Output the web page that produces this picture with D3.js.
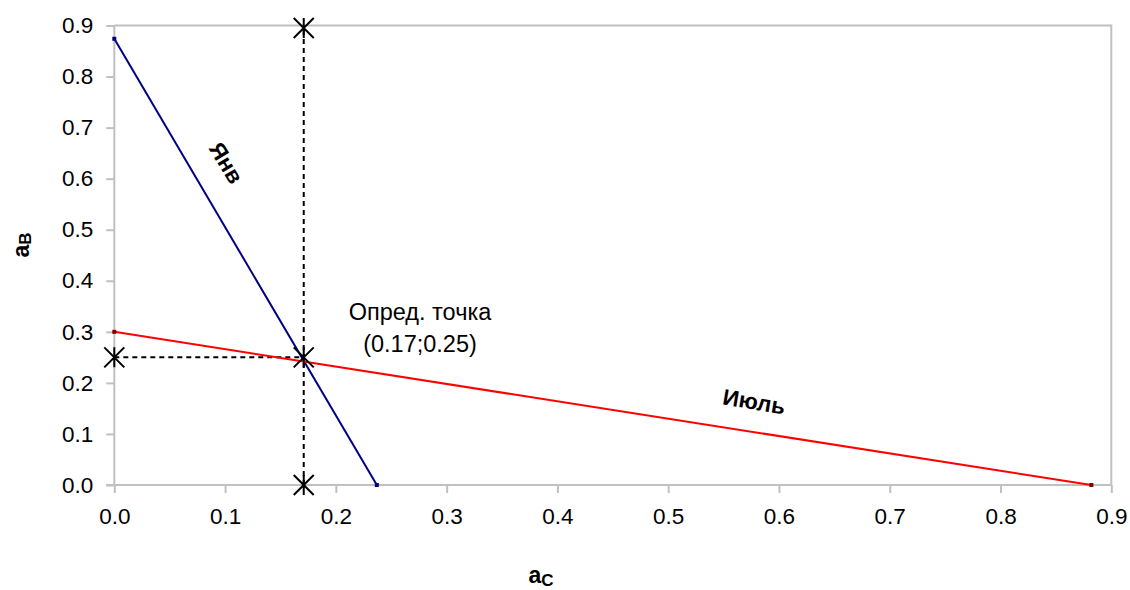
<!DOCTYPE html>
<html><head><meta charset="utf-8">
<script src="https://cdn.jsdelivr.net/npm/d3@7"></script>
<style>body{margin:0;background:#fff}svg{font-family:Arial,"Liberation Sans",sans-serif}</style>
</head><body>
<svg id="c" width="1130" height="590"></svg>
<script>
const xTicks = [0,0.1,0.2,0.3,0.4,0.5,0.6,0.7,0.8,0.9];
const yTicks = [0,0.1,0.2,0.3,0.4,0.5,0.6,0.7,0.8,0.9];
const janX = [0, 0.237];
const janY = [0.874, 0];
const julX = [0, 0.882];
const julY = [0.300, 0];
const ptX = [0, 0.171, 0.171, 0.171];
const ptY = [0.25, 0.25, 0, 0.895];
const vDashX = [0.171, 0.171];
const vDashY = [0, 0.895];
const hDashX = [0, 0.171];
const hDashY = [0.25, 0.25];
const labels = ["Янв", "Июль"];
const pointText = ["Опред. точка", "(0.17;0.25)"];

const svg = d3.select("#c");
const L=114.3, R=1111.3, T=25.5, B=485;
const x = d3.scaleLinear().domain([0,0.9]).range([L,R]);
const y = d3.scaleLinear().domain([0,0.9]).range([B,T]);
const grey="#c0c0c0";
const FS=22.5;

svg.append("path").attr("d",`M${L},${T}H${R}V${B}`).attr("fill","none").attr("stroke",grey).attr("stroke-width",2);

const xa = svg.append("g").attr("transform",`translate(0,${B})`)
  .call(d3.axisBottom(x).tickValues(xTicks).tickFormat(d3.format(".1f")).tickSize(8).tickPadding(15));
const ya = svg.append("g").attr("transform",`translate(${L},0)`)
  .call(d3.axisLeft(y).tickValues(yTicks).tickFormat(d3.format(".1f")).tickSize(8).tickPadding(13));
[xa,ya].forEach(a=>{
  a.selectAll("path.domain").attr("stroke",grey).attr("stroke-width",2);
  a.selectAll(".tick line").attr("stroke",grey).attr("stroke-width",2);
  a.selectAll("text").attr("font-size",FS).attr("fill","#000").attr("font-family","Arial, Liberation Sans, sans-serif");
});
xa.select("path.domain").attr("d",`M${L-8},0H${R}`);
ya.select("path.domain").attr("d",`M0,${T}V${B}`);
xa.selectAll("text").attr("dy","0.71em");

const line = d3.line().x(d=>x(d[0])).y(d=>y(d[1]));
svg.append("path").datum(d3.zip(vDashX,vDashY)).attr("d",line).attr("stroke","#000").attr("stroke-width",2).attr("stroke-dasharray","5,4").attr("fill","none");
svg.append("path").datum(d3.zip(hDashX,hDashY)).attr("d",line).attr("stroke","#000").attr("stroke-width",2).attr("stroke-dasharray","5,4").attr("fill","none");

svg.append("path").datum(d3.zip(janX,janY)).attr("d",line).attr("stroke","#000080").attr("stroke-width",2).attr("fill","none");
svg.append("path").datum(d3.zip(julX,julY)).attr("d",line).attr("stroke","#ff0000").attr("stroke-width",2).attr("fill","none");
svg.selectAll("rect.jm").data(d3.zip(janX,janY)).join("rect").attr("x",d=>x(d[0])-2).attr("y",d=>y(d[1])-2).attr("width",4).attr("height",4).attr("fill","#000080");
svg.selectAll("rect.rm").data(d3.zip(julX,julY)).join("rect").attr("x",d=>x(d[0])-2).attr("y",d=>y(d[1])-2).attr("width",4).attr("height",4).attr("fill","#800000");

const s=10;
svg.selectAll("path.star").data(d3.zip(ptX,ptY)).join("path")
  .attr("d",d=>{const cx=x(d[0]),cy=y(d[1]);return `M${cx-s},${cy-s}L${cx+s},${cy+s}M${cx-s},${cy+s}L${cx+s},${cy-s}M${cx},${cy-s}V${cy+s}`;})
  .attr("stroke","#000").attr("stroke-width",2).attr("fill","none");

svg.append("text").attr("transform",`translate(226,163) rotate(59)`).attr("text-anchor","middle").attr("dominant-baseline","central")
  .attr("font-size",FS).attr("font-weight","bold").text(labels[0]);
svg.append("text").attr("transform",`translate(754,402) rotate(9.5)`).attr("text-anchor","middle").attr("dominant-baseline","central")
  .attr("font-size",FS).attr("font-weight","bold").text(labels[1]);
svg.append("text").attr("x",420).attr("y",312).attr("text-anchor","middle").attr("dominant-baseline","central").attr("font-size",FS+1).text(pointText[0]);
svg.append("text").attr("x",420).attr("y",344).attr("text-anchor","middle").attr("dominant-baseline","central").attr("font-size",FS+1).text(pointText[1]);

const xt = svg.append("text").attr("x",541).attr("y",583).attr("text-anchor","middle").attr("font-size",23).attr("font-weight","bold");
xt.append("tspan").text("а");
xt.append("tspan").attr("font-size",17).attr("dy",3).text("С");
const yt = svg.append("text").attr("transform","translate(29,245) rotate(-90)").attr("text-anchor","middle").attr("font-size",23).attr("font-weight","bold");
yt.append("tspan").text("а");
yt.append("tspan").attr("font-size",17).attr("dy",2).text("В");
</script>
</body></html>
